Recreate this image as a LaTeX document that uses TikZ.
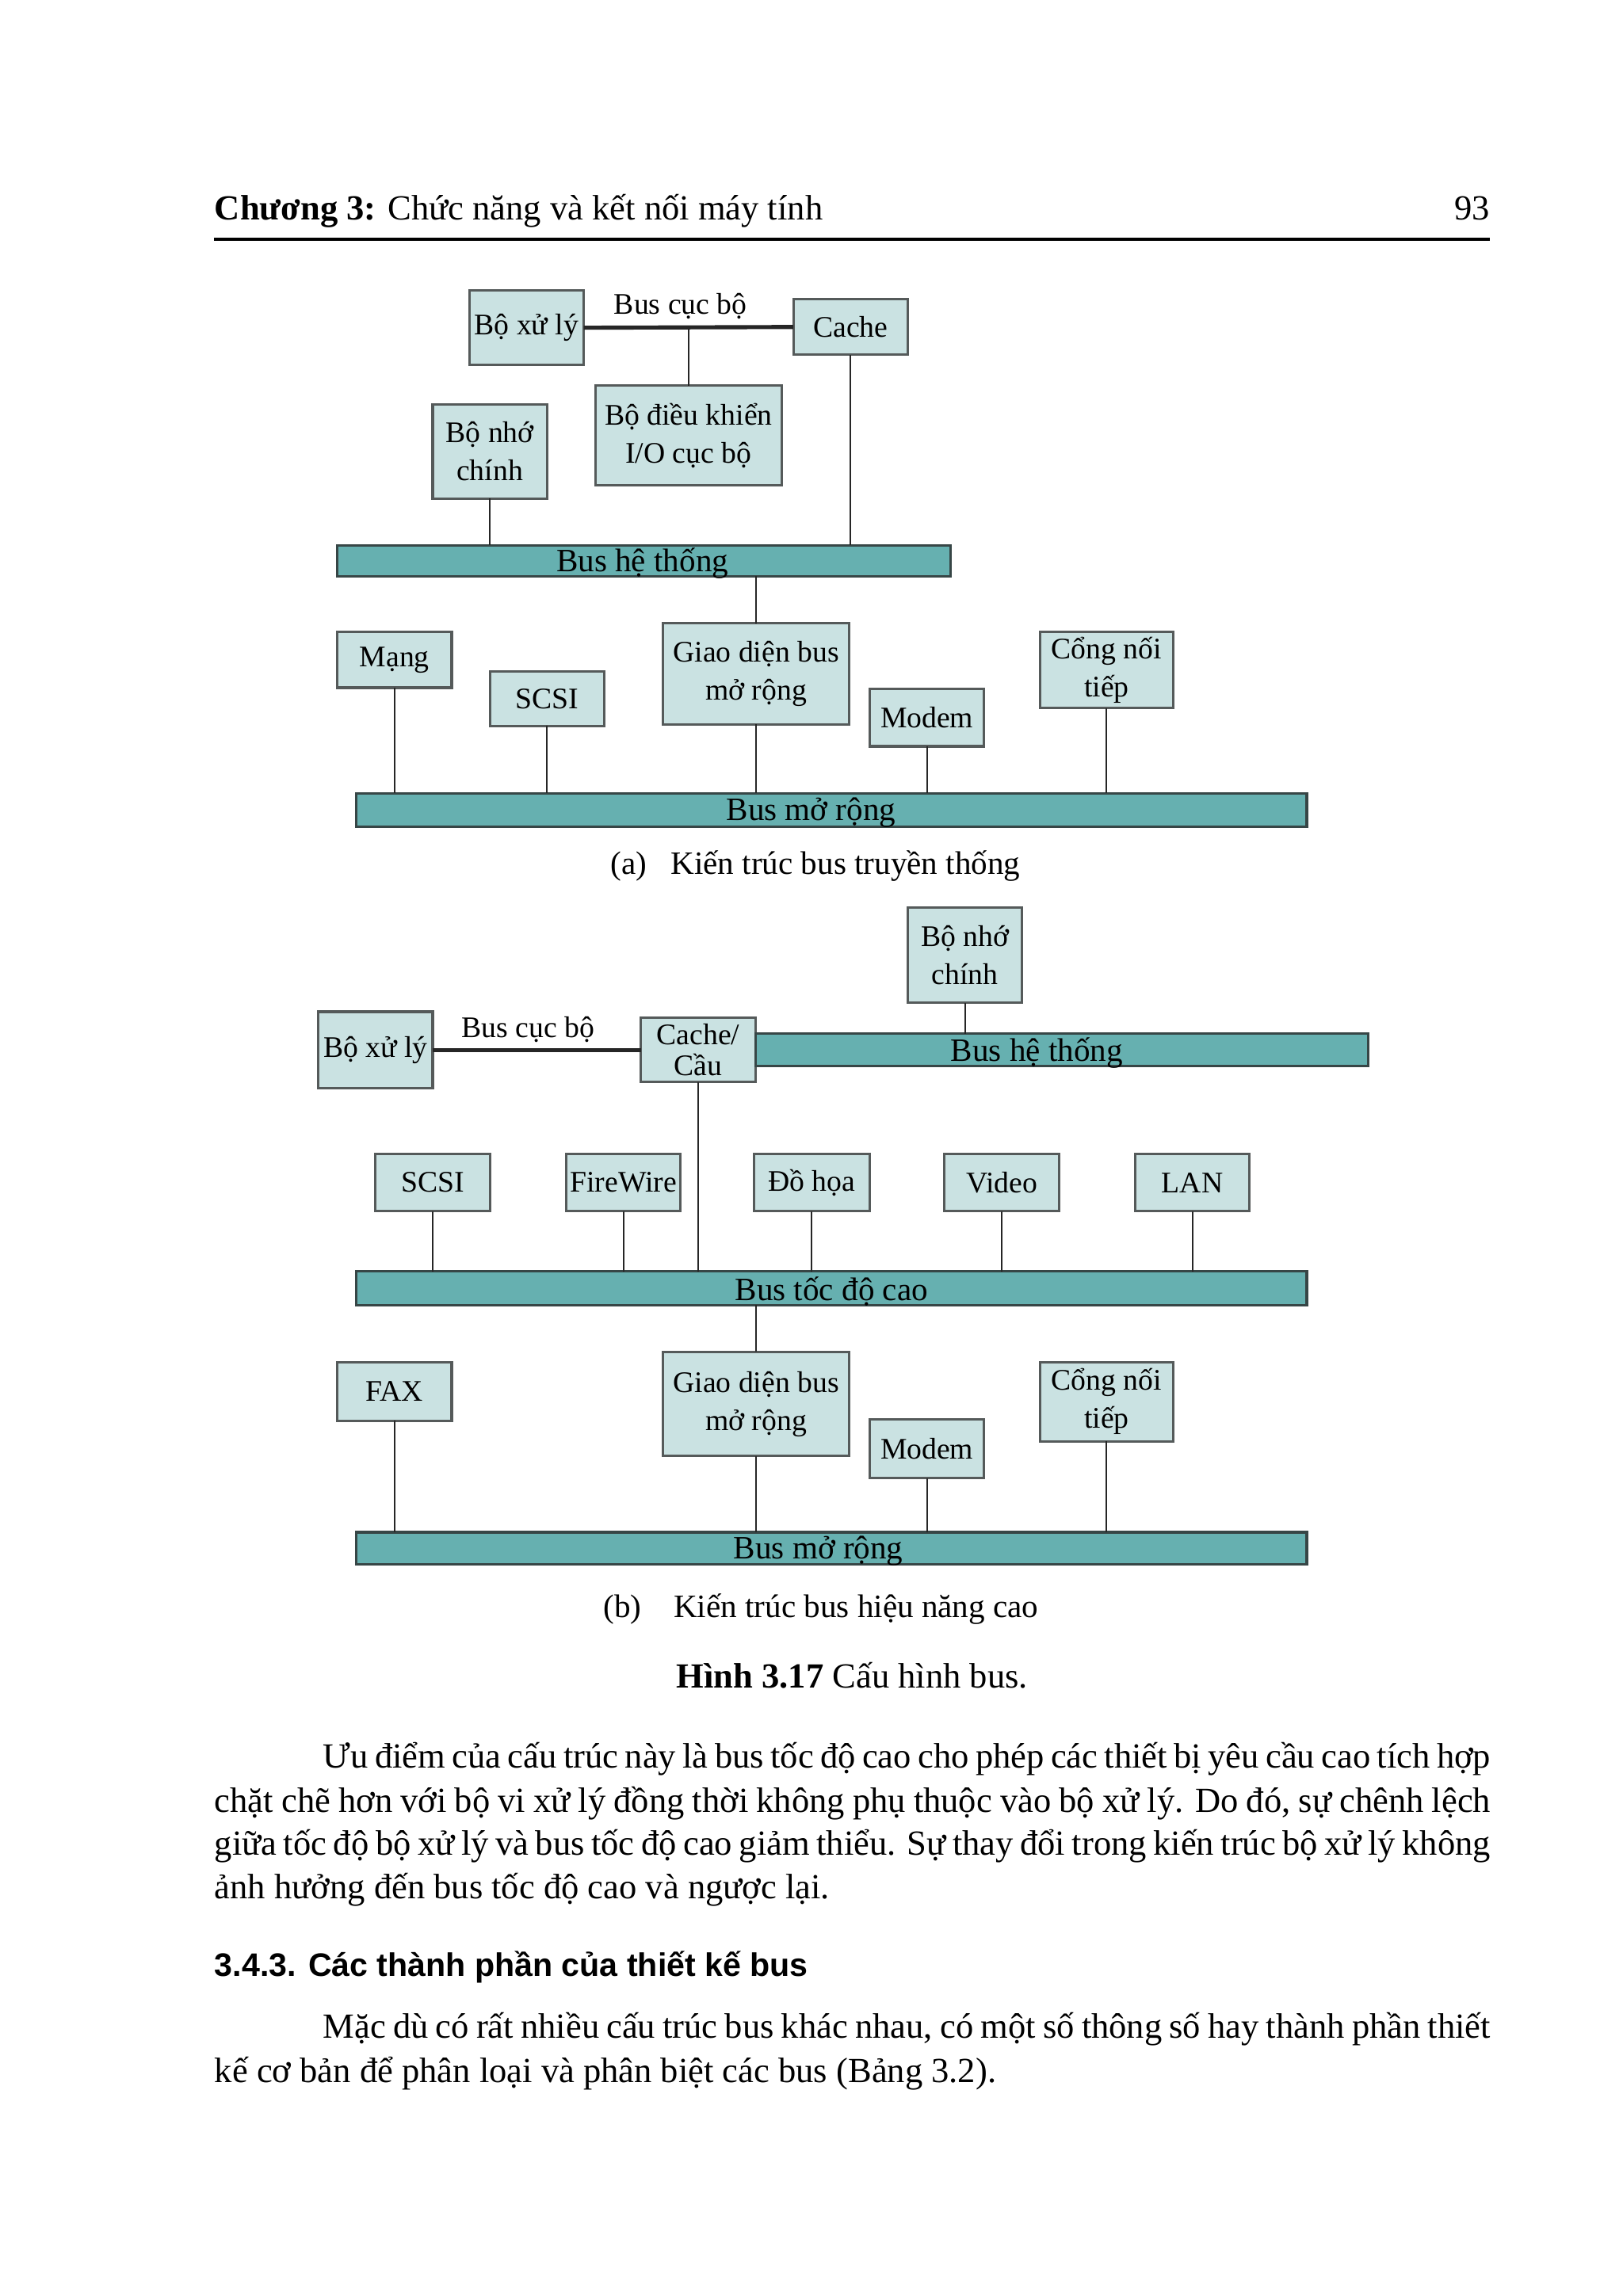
\documentclass[tikz,border=0pt]{standalone}
\usepackage{fontspec}
\setmainfont{Liberation Serif}
\newfontfamily\headsans{Liberation Sans}
\definecolor{boxfill}{RGB}{202,226,226}
\definecolor{busfill}{RGB}{102,176,176}
\definecolor{edgegray}{RGB}{85,90,90}
\definecolor{busedge}{RGB}{55,70,70}
\newdimen\uu
\uu=0.18977mm
\newcommand\diabox[6]{\node[#1, minimum width={(#4-#2)*\uu}, minimum height={(#5-#3)*\uu}] (#6) at ({(#2+#4)/2},{(#3+#5)/2})}
\tikzset{
  unitbox/.style={draw=edgegray, line width=0.9pt, fill=boxfill, inner sep=0pt, outer sep=0pt, align=center, font=\fontsize{11}{14}\selectfont},
  busbar/.style={draw=busedge, line width=0.9pt, fill=busfill, inner sep=0pt, outer sep=0pt},
  wire/.style={draw=black!85, line width=0.6pt},
  localbus/.style={draw=black!85, line width=1.5pt},
  buslabel/.style={font=\fontsize{12}{14}\selectfont, inner sep=0pt},
  locallabel/.style={font=\fontsize{11}{14}\selectfont, inner sep=0pt},
  captext/.style={font=\fontsize{12}{14}\selectfont, inner sep=0pt, anchor=base west},
  bodytext/.style={font=\fontsize{13}{16}\selectfont, inner sep=0pt, anchor=base west},
}
\begin{document}
\begin{tikzpicture}[x=\uu, y=-\uu]
\useasboundingbox[fill=white] (0,0) rectangle (1106.6,1565.9);

% header
\node[bodytext] (hdr) at (146,150) {\textbf{Chương 3:} Chức năng và kết nối máy tính};
\node[bodytext, anchor=base east] (pgno) at (1016,150) {93};
\draw[line width=1.2pt] (146,163) -- (1016,163);

% ---------- diagram (a) ----------
\diabox{unitbox}{320}{198}{398}{249}{cpuA} {Bộ xử lý};
\diabox{unitbox}{541}{204}{619}{242}{cacheA} {Cache};
\diabox{unitbox}{406}{263}{533}{331}{ioA} {Bộ điều khiển\\I/O cục bộ};
\diabox{unitbox}{295}{276}{373}{340}{memA} {Bộ nhớ\\chính};
\diabox{busbar}{230}{372}{648}{393}{sysA} {};
\diabox{unitbox}{230}{431}{308}{469}{netA} {Mạng};
\diabox{unitbox}{334}{458}{412}{495}{scsiA} {SCSI};
\diabox{unitbox}{452}{425}{579}{494}{giaoA} {Giao diện bus\\mở rộng};
\diabox{unitbox}{593}{470}{671}{509}{modemA} {Modem};
\diabox{unitbox}{709}{431}{800}{483}{serA} {Cổng nối\\tiếp};
\diabox{busbar}{243}{541}{891}{564}{expA} {};

\draw[localbus] (cpuA.east) -- (cacheA.west);
\draw[wire] (ioA.north) -- (ioA.north |- cpuA.east);
\draw[wire] (memA.south) -- (memA.south |- sysA.north);
\draw[wire] (cacheA.south) -- (cacheA.south |- sysA.north);
\draw[wire] (giaoA.north) -- (giaoA.north |- sysA.south);
\foreach \n in {netA,scsiA,giaoA,modemA,serA}
  \draw[wire] (\n.south) -- (\n.south |- expA.north);

\node[locallabel] (lbA1) at (464,209) {Bus cục bộ};
\node[buslabel] (lbA2) at (438,384) {Bus hệ thống};
\node[buslabel] (lbA3) at (553,554) {Bus mở rộng};
\node[captext] (capA1) at (416,596) {(a)};
\node[captext] (capA2) at (457,596) {Kiến trúc bus truyền thống};

% ---------- diagram (b) ----------
\diabox{unitbox}{619}{619}{697}{684}{memB} {Bộ nhớ\\chính};
\diabox{unitbox}{217}{690}{295}{742}{cpuB} {Bộ xử lý};
\diabox{unitbox, font=\fontsize{11}{11.5}\selectfont}{437}{694}{515}{738}{bridgeB} {Cache/\\Cầu};
\diabox{busbar}{515}{705}{933}{727}{sysB} {};
\diabox{unitbox}{256}{787}{334}{826}{scsiB} {SCSI};
\diabox{unitbox}{386}{787}{464}{826}{fwB} {FireWire};
\diabox{unitbox}{514}{787}{593}{826}{gfxB} {Đồ họa};
\diabox{unitbox}{644}{787}{722}{826}{vidB} {Video};
\diabox{unitbox}{774}{787}{852}{826}{lanB} {LAN};
\diabox{busbar}{243}{867}{891}{890}{hsB} {};
\diabox{unitbox}{230}{929}{308}{969}{faxB} {FAX};
\diabox{unitbox}{452}{922}{579}{993}{giaoB} {Giao diện bus\\mở rộng};
\diabox{unitbox}{593}{968}{671}{1008}{modemB} {Modem};
\diabox{unitbox}{709}{929}{800}{983}{serB} {Cổng nối\\tiếp};
\diabox{busbar}{243}{1045}{891}{1067}{expB} {};

\draw[localbus] (cpuB.east) -- (bridgeB.west);
\draw[wire] (memB.south) -- (memB.south |- sysB.north);
\draw[wire] (bridgeB.south) -- (bridgeB.south |- hsB.north);
\foreach \n in {scsiB,fwB,gfxB,vidB,lanB}
  \draw[wire] (\n.south) -- (\n.south |- hsB.north);
\draw[wire] (giaoB.north) -- (giaoB.north |- hsB.south);
\foreach \n in {faxB,giaoB,modemB,serB}
  \draw[wire] (\n.south) -- (\n.south |- expB.north);

\node[locallabel] (lbB1) at (360,702) {Bus cục bộ};
\node[buslabel] (lbB2) at (707,718) {Bus hệ thống};
\node[buslabel] (lbB3) at (567,881) {Bus tốc độ cao};
\node[buslabel] (lbB4) at (558,1058) {Bus mở rộng};
\node[captext] (capB1) at (411,1103) {(b)};
\node[captext] (capB2) at (459,1103) {Kiến trúc bus hiệu năng cao};

% figure caption
\node[bodytext, anchor=base] (figcap) at (581,1151) {\textbf{Hình 3.17} Cấu hình bus.};

% body text
\node[bodytext] (p1a) at (220,1206) {\makebox[796\uu][s]{Ưu điểm của cấu trúc này là bus tốc độ cao cho phép các thiết bị yêu cầu cao tích hợp}};
\node[bodytext] (p1b) at (146,1236) {\makebox[870\uu][s]{chặt chẽ hơn với bộ vi xử lý đồng thời không phụ thuộc vào bộ xử lý. Do đó, sự chênh lệch}};
\node[bodytext] (p1c) at (146,1265) {\makebox[870\uu][s]{giữa tốc độ bộ xử lý và bus tốc độ cao giảm thiểu. Sự thay đổi trong kiến trúc bộ xử lý không}};
\node[bodytext] (p1d) at (146,1295) {ảnh hưởng đến bus tốc độ cao và ngược lại.};

\node[bodytext, font=\headsans\bfseries\fontsize{12}{14}\selectfont] (sec) at (146,1348) {3.4.3. Các thành phần của thiết kế bus};

\node[bodytext] (p2a) at (220,1390) {\makebox[796\uu][s]{Mặc dù có rất nhiều cấu trúc bus khác nhau, có một số thông số hay thành phần thiết}};
\node[bodytext] (p2b) at (146,1420) {kế cơ bản để phân loại và phân biệt các bus (Bảng 3.2).};
\end{tikzpicture}
\end{document}
